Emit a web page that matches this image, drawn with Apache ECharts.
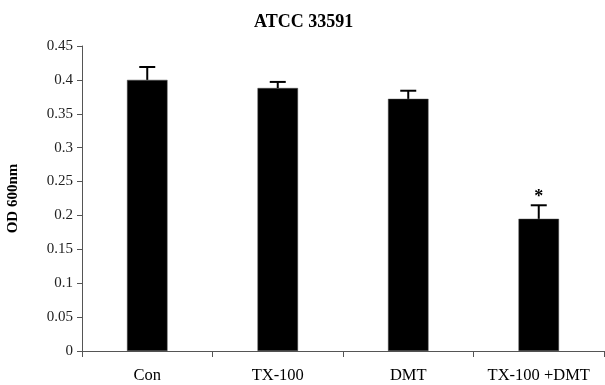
<!DOCTYPE html>
<html><head><meta charset="utf-8">
<script src="https://cdn.jsdelivr.net/npm/echarts@6/dist/echarts.min.js"></script>
<style>html,body{margin:0;padding:0;background:#fff}#c{width:605px;height:385px}</style>
</head><body><div id="c"></div>
<script>
var categories = ['Con', 'TX-100', 'DMT', 'TX-100 +DMT'];
var means = [0.400, 0.388, 0.372, 0.195];
var errors = [0.019, 0.009, 0.012, 0.020];
var marks = ['', '', '', '*'];

var chart = echarts.init(document.getElementById('c'));
var serif = '"Liberation Serif", "Times New Roman", serif';
chart.setOption({
  animation: false,
  title: { text: 'ATCC 33591', left: 249, top: 8,
    textStyle: { fontFamily: serif, fontWeight: 'bold', fontSize: 18, color: '#000' } },
  grid: { left: 82, right: 1, top: 46, bottom: 34, containLabel: false, outerBoundsMode: 'none' },
  xAxis: {
    type: 'category', data: categories,
    axisLine: { lineStyle: { color: '#555', width: 1 } },
    axisTick: { show: true, interval: 0, length: 6, lineStyle: { color: '#555' } },
    axisLabel: { interval: 0, hideOverlap: false, fontFamily: serif, fontSize: 16.5, color: '#000', margin: 16 }
  },
  yAxis: {
    type: 'value', min: 0, max: 0.45, interval: 0.05,
    name: 'OD 600nm', nameLocation: 'middle', nameGap: 61, nameRotate: 90,
    nameTextStyle: { fontFamily: serif, fontWeight: 'bold', fontSize: 15, color: '#000' },
    axisLine: { show: true, lineStyle: { color: '#555', width: 1 } },
    axisTick: { show: true, inside: false, length: 5, lineStyle: { color: '#555' } },
    splitLine: { show: false },
    axisLabel: { fontFamily: serif, fontSize: 15, color: '#222', margin: 9,
      formatter: function (v) { return String(+v.toFixed(2)); } }
  },
  series: [
    { type: 'bar', data: means, barWidth: '31%',
      itemStyle: { color: '#000', borderColor: '#444', borderWidth: 0.5 } },
    { type: 'custom', z: 3,
      data: categories.map(function (c, i) { return [i, means[i], errors[i]]; }),
      renderItem: function (params, api) {
        var i = api.value(0);
        var top = api.coord([i, api.value(1)]);
        var hi = api.coord([i, api.value(1) + api.value(2)]);
        var w = 8;
        var children = [
          { type: 'line', shape: { x1: top[0], y1: top[1], x2: hi[0], y2: hi[1] },
            style: { stroke: '#000', lineWidth: 2 } },
          { type: 'line', shape: { x1: hi[0] - w, y1: hi[1], x2: hi[0] + w, y2: hi[1] },
            style: { stroke: '#000', lineWidth: 2 } }
        ];
        if (marks[i]) {
          children.push({ type: 'text', x: hi[0], y: hi[1] + 1,
            style: { text: marks[i], fill: '#000', font: 'bold 18px ' + serif,
              textAlign: 'center', textVerticalAlign: 'bottom' } });
        }
        return { type: 'group', children: children };
      }
    }
  ]
});
</script></body></html>
